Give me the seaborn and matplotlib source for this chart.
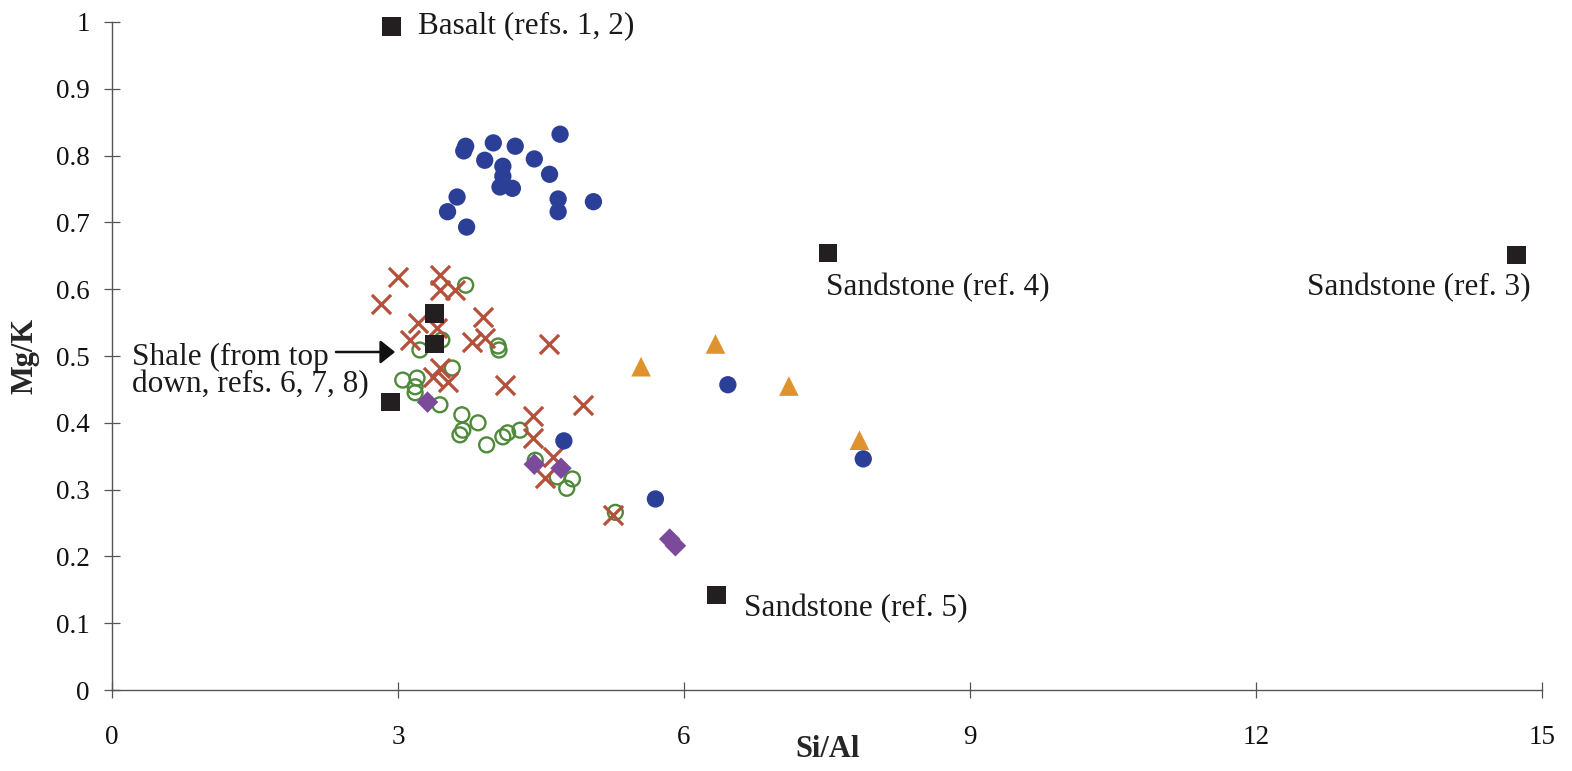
import matplotlib
matplotlib.use("Agg")
import matplotlib.pyplot as plt
import seaborn as sns
import numpy as np
import pandas as pd

# Si/Al vs Mg/K measurements grouped by sample set
blue_x = [3.71, 3.69, 4.00, 4.23, 4.70, 3.91, 4.10, 4.10, 4.07, 4.20, 4.43, 4.59,
          4.68, 4.68, 5.05, 3.62, 3.52, 3.72, 6.46, 4.74, 5.70, 7.88]
blue_y = [0.814, 0.807, 0.819, 0.814, 0.832, 0.793, 0.784, 0.769, 0.753, 0.751, 0.795, 0.772,
          0.735, 0.716, 0.731, 0.738, 0.716, 0.693, 0.457, 0.373, 0.286, 0.346]

orange_x = [6.33, 5.55, 7.10, 7.84]
orange_y = [0.518, 0.484, 0.455, 0.374]

red_x = [2.82, 3.00, 3.44, 3.44, 3.60, 3.21, 3.41, 3.13, 3.89, 3.78, 3.91, 4.58,
         3.44, 3.37, 3.52, 4.12, 4.42, 4.94, 4.42, 4.63, 4.54, 5.26]
red_y = [0.578, 0.618, 0.621, 0.599, 0.599, 0.549, 0.542, 0.524, 0.558, 0.521, 0.527, 0.518,
         0.482, 0.469, 0.461, 0.457, 0.410, 0.427, 0.377, 0.349, 0.317, 0.262]

green_x = [3.71, 4.06, 4.05, 3.23, 3.46, 3.05, 3.20, 3.18, 3.18, 3.57, 3.44, 3.67,
           3.68, 3.65, 3.84, 3.93, 4.10, 4.15, 4.28, 4.44, 4.67, 4.83, 4.77, 5.28]
green_y = [0.606, 0.509, 0.515, 0.509, 0.524, 0.464, 0.467, 0.454, 0.445, 0.482, 0.427, 0.412,
           0.389, 0.382, 0.400, 0.367, 0.379, 0.385, 0.389, 0.344, 0.319, 0.316, 0.302, 0.266]

purple_x = [3.31, 4.43, 4.71, 5.85, 5.91]
purple_y = [0.431, 0.338, 0.332, 0.226, 0.216]

# Reference rocks
ref_x = [2.93, 7.51, 14.73, 6.34, 3.38, 3.38, 2.92]
ref_y = [0.993, 0.654, 0.651, 0.142, 0.564, 0.518, 0.431]

x_ticks = [0, 3, 6, 9, 12, 15]
y_ticks = [0, 0.1, 0.2, 0.3, 0.4, 0.5, 0.6, 0.7, 0.8, 0.9, 1]
y_tick_labels = ["0", "0.1", "0.2", "0.3", "0.4", "0.5", "0.6", "0.7", "0.8", "0.9", "1"]

sns.set_style("ticks")
plt.rcParams["font.family"] = ["Liberation Serif", "DejaVu Serif"]

fig = plt.figure(figsize=(15.72, 7.71), dpi=100)
ax = fig.add_axes([0.0712, 0.105, 0.9098, 0.8665])

blue = "#2B3F97"
orange = "#E0922F"
red = "#B5503A"
green = "#4E8A3A"
purple = "#7B4A9A"
black = "#231F20"

sns.scatterplot(x=green_x, y=green_y, marker="o", s=115, color=green,
                linewidth=1.7, ax=ax, clip_on=False, zorder=3)
ax.collections[-1].set_facecolor("none")
ax.collections[-1].set_edgecolor(green)
sns.scatterplot(x=red_x, y=red_y, marker="x", s=190, color=red,
                linewidth=2.3, ax=ax, clip_on=False, zorder=4)
sns.scatterplot(x=blue_x, y=blue_y, marker="o", s=155, color=blue,
                edgecolor="none", ax=ax, clip_on=False, zorder=5)
sns.scatterplot(x=orange_x, y=orange_y, marker="^", s=200, color=orange,
                edgecolor="none", ax=ax, clip_on=False, zorder=5)
sns.scatterplot(x=purple_x, y=purple_y, marker="D", s=120, color=purple,
                edgecolor="none", ax=ax, clip_on=False, zorder=5)
sns.scatterplot(x=ref_x, y=ref_y, marker="s", s=180, color=black,
                edgecolor="none", ax=ax, clip_on=False, zorder=6)

ax.set_xlim(0, 15)
ax.set_ylim(0, 1)
ax.set_xticks(x_ticks)
ax.set_xticklabels([str(t) for t in x_ticks])
ax.set_yticks(y_ticks)
ax.set_yticklabels(y_tick_labels)
ax.tick_params(direction="inout", length=12, width=0.9, color="#555555",
               labelsize=19.5, labelcolor="#111111")
ax.tick_params(axis="y", pad=10)
ax.tick_params(axis="x", pad=19)

for side in ["top", "right"]:
    ax.spines[side].set_visible(False)
for side in ["left", "bottom"]:
    ax.spines[side].set_color("#555555")
    ax.spines[side].set_linewidth(1.0)

ax.set_xlabel("Si/Al", fontsize=22, fontweight="bold")
ax.xaxis.label.set_va("center")
ax.xaxis.set_label_coords(0.5007, -0.089)
ax.set_ylabel("Mg/K", fontsize=22, fontweight="bold")
ax.yaxis.label.set_va("center")
ax.yaxis.set_label_coords(-0.061, 0.5)

txt = dict(fontsize=22.5, color="#1a1a1a", va="baseline")
ax.text(3.21, 0.9835, "Basalt (refs. 1, 2)", ha="left", **txt)
ax.text(7.49, 0.591, "Sandstone (ref. 4)", ha="left", **txt)
ax.text(14.875, 0.591, "Sandstone (ref. 3)", ha="right", **txt)
ax.text(6.63, 0.111, "Sandstone (ref. 5)", ha="left", **txt)
ax.text(0.21, 0.4865, "Shale (from top", ha="left", **txt)
ax.text(0.21, 0.446, "down, refs. 6, 7, 8)", ha="left", **txt)
ax.annotate("", xy=(2.97, 0.506), xytext=(2.35, 0.506),
            arrowprops=dict(arrowstyle="-|>,head_length=0.45,head_width=0.36",
                            color="#111111", lw=1.8, mutation_scale=20,
                            shrinkA=0, shrinkB=0))

fig.savefig("out.png", dpi=100, facecolor="white")
